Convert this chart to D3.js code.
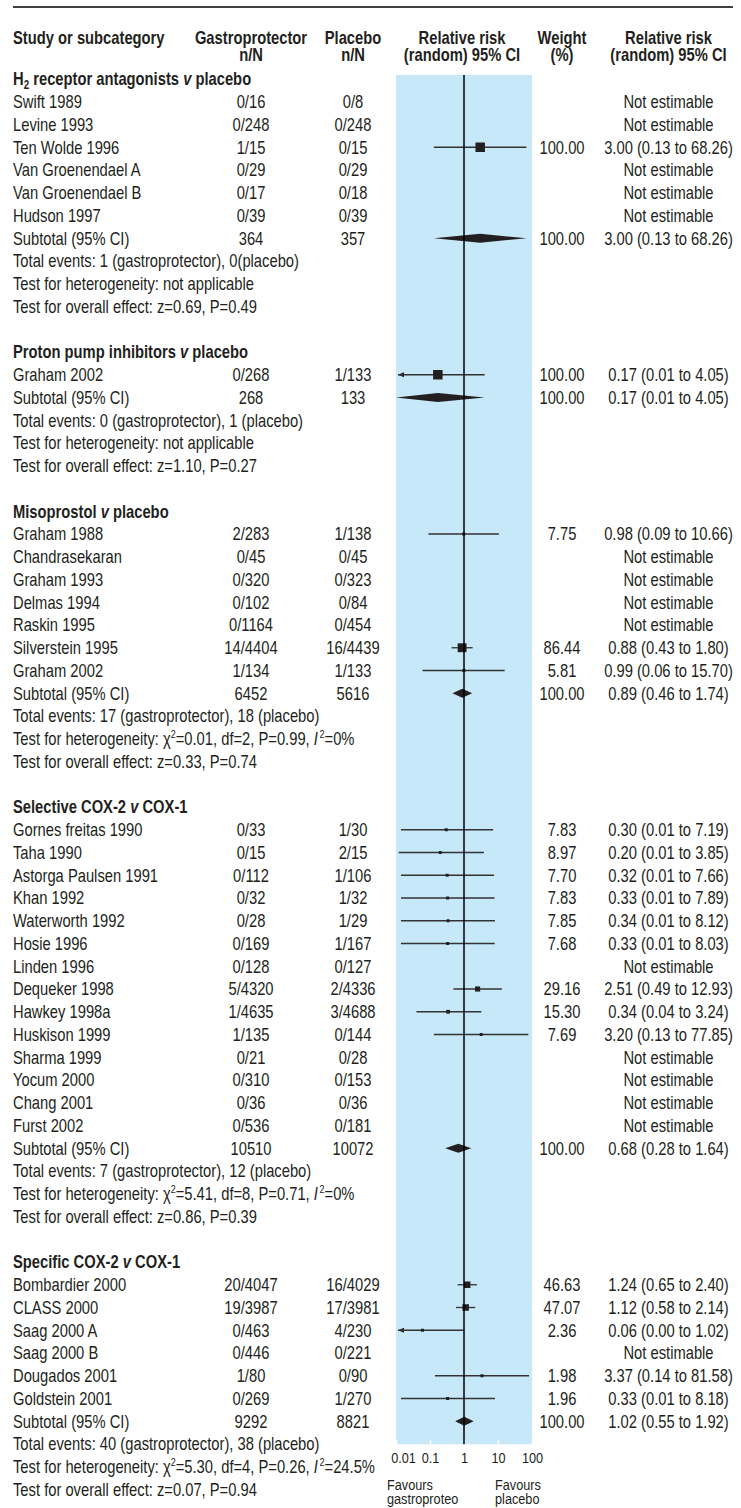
<!DOCTYPE html>
<html>
<head>
<meta charset="utf-8">
<script src="https://cdn.jsdelivr.net/npm/d3@7"></script>
<style>
  body { margin: 0; background: #fff; }
  svg text { font-family: 'Liberation Sans', Arial, sans-serif; fill: #231f20; }
</style>
</head>
<body>
<svg id="forest"></svg>
<script>
// ---- data ----
var groupLabels = ["H_2 receptor antagonists", "Proton pump inhibitors", "Misoprostol", "Selective COX-2", "Specific COX-2"];
var groupVersus = ["placebo", "placebo", "placebo", "COX-1", "COX-1"];

var studyGroup = [0,0,0,0,0,0, 1, 2,2,2,2,2,2,2, 3,3,3,3,3,3,3,3,3,3,3,3,3,3, 4,4,4,4,4,4];
var studyNames = ["Swift 1989", "Levine 1993", "Ten Wolde 1996", "Van Groenendael A", "Van Groenendael B", "Hudson 1997",
  "Graham 2002",
  "Graham 1988", "Chandrasekaran", "Graham 1993", "Delmas 1994", "Raskin 1995", "Silverstein 1995", "Graham 2002",
  "Gornes freitas 1990", "Taha 1990", "Astorga Paulsen 1991", "Khan 1992", "Waterworth 1992", "Hosie 1996", "Linden 1996",
  "Dequeker 1998", "Hawkey 1998a", "Huskison 1999", "Sharma 1999", "Yocum 2000", "Chang 2001", "Furst 2002",
  "Bombardier 2000", "CLASS 2000", "Saag 2000 A", "Saag 2000 B", "Dougados 2001", "Goldstein 2001"];
var treatNN = ["0/16", "0/248", "1/15", "0/29", "0/17", "0/39",
  "0/268",
  "2/283", "0/45", "0/320", "0/102", "0/1164", "14/4404", "1/134",
  "0/33", "0/15", "0/112", "0/32", "0/28", "0/169", "0/128", "5/4320", "1/4635", "1/135", "0/21", "0/310", "0/36", "0/536",
  "20/4047", "19/3987", "0/463", "0/446", "1/80", "0/269"];
var ctrlNN = ["0/8", "0/248", "0/15", "0/29", "0/18", "0/39",
  "1/133",
  "1/138", "0/45", "0/323", "0/84", "0/454", "16/4439", "1/133",
  "1/30", "2/15", "1/106", "1/32", "1/29", "1/167", "0/127", "2/4336", "3/4688", "0/144", "0/28", "0/153", "0/36", "0/181",
  "16/4029", "17/3981", "4/230", "0/221", "0/90", "1/270"];
var studyWeight = [null, null, 100.00, null, null, null,
  100.00,
  7.75, null, null, null, null, 86.44, 5.81,
  7.83, 8.97, 7.70, 7.83, 7.85, 7.68, null, 29.16, 15.30, 7.69, null, null, null, null,
  46.63, 47.07, 2.36, null, 1.98, 1.96];
var studyRR = [null, null, 3.00, null, null, null,
  0.17,
  0.98, null, null, null, null, 0.88, 0.99,
  0.30, 0.20, 0.32, 0.33, 0.34, 0.33, null, 2.51, 0.34, 3.20, null, null, null, null,
  1.24, 1.12, 0.06, null, 3.37, 0.33];
var studyLow = [null, null, 0.13, null, null, null,
  0.007,
  0.09, null, null, null, null, 0.43, 0.06,
  0.014, 0.012, 0.014, 0.014, 0.014, 0.014, null, 0.49, 0.04, 0.13, null, null, null, null,
  0.65, 0.58, 0.004, null, 0.14, 0.014];
var studyHigh = [null, null, 68.26, null, null, null,
  4.05,
  10.66, null, null, null, null, 1.80, 15.70,
  7.19, 3.85, 7.66, 7.89, 8.12, 8.03, null, 12.93, 3.24, 77.85, null, null, null, null,
  2.40, 2.14, 1.02, null, 81.58, 8.18];

var subTreat = [364, 268, 6452, 10510, 9292];
var subCtrl = [357, 133, 5616, 10072, 8821];
var subRR = [3.00, 0.17, 0.89, 0.68, 1.02];
var subLow = [0.13, 0.007, 0.46, 0.28, 0.55];
var subHigh = [68.26, 4.05, 1.74, 1.64, 1.92];

var eventsTreat = [1, 0, 17, 7, 40];
var eventsCtrl = [0, 1, 18, 12, 38];
var hetChi2 = [null, null, 0.01, 5.41, 5.30];
var hetDf = [null, null, 2, 8, 4];
var hetP = [null, null, 0.99, 0.71, 0.26];
var hetI2 = [null, null, 0, 0, 24.5];
var overallZ = [0.69, 1.10, 0.33, 0.86, 0.07];
var overallP = [0.49, 0.27, 0.74, 0.39, 0.94];

var axisTicks = [0.01, 0.1, 1, 10, 100];

// ---- layout ----
var W = 741, H = 1508;
var col = {label: 13, treat: 251, ctrl: 353, weight: 562, rr: 668.5};
var ink = "#231f20";
var f2 = d3.format(".2f");
var narrow = 0.82;   // no condensed face installed, squeeze Liberation Sans instead

var rows = [];
groupLabels.forEach(function (g, gi) {
  rows.push({type: "group", g: gi});
  studyGroup.forEach(function (sg, si) { if (sg == gi) rows.push({type: "study", i: si}); });
  rows.push({type: "subtotal", g: gi});
  rows.push({type: "events", g: gi});
  rows.push({type: "het", g: gi});
  rows.push({type: "overall", g: gi});
  if (gi < groupLabels.length - 1) rows.push({type: "blank"});
});

var y = d3.scaleLinear().domain([0, rows.length - 1]).range([79, 79 + (rows.length - 1) * 22.75]);
var x = d3.scaleLog().domain([0.01, 100]).range([396, 532]).clamp(true);
var box = d3.scaleSqrt().domain([0, 100]).range([0, 9.5]);

var svg = d3.select("#forest").attr("width", W).attr("height", H);

// narrow text helper
function label(parent, xx, yy, t, anchor, size) {
  return parent.append("text")
    .attr("transform", "translate(" + xx + "," + yy + ") scale(" + narrow + ",1)")
    .attr("dy", "0.35em")
    .attr("text-anchor", anchor || "start")
    .style("font-size", (size || 18) + "px")
    .text(t);
}

// top rule
svg.append("line").attr("x1", 13).attr("x2", 733).attr("y1", 7).attr("y2", 7)
  .attr("stroke", "#000").attr("stroke-width", 1.5);

// header
var hdr = svg.append("g").style("font-weight", "bold");
label(hdr, col.label, 37.5, "Study or subcategory");
label(hdr, col.treat, 37.5, "Gastroprotector", "middle");
label(hdr, col.treat, 55, "n/N", "middle");
label(hdr, col.ctrl, 37.5, "Placebo", "middle");
label(hdr, col.ctrl, 55, "n/N", "middle");
label(hdr, 462, 37.5, "Relative risk", "middle");
label(hdr, 462, 55, "(random) 95% CI", "middle");
label(hdr, col.weight, 37.5, "Weight", "middle");
label(hdr, col.weight, 55, "(%)", "middle");
label(hdr, col.rr, 37.5, "Relative risk", "middle");
label(hdr, col.rr, 55, "(random) 95% CI", "middle");

// blue panel
var lastSub = d3.max(rows.map(function (r, k) { return r.type == "subtotal" ? k : -1; }));
var panelTop = y(0) - 4, panelBottom = y(lastSub) + 23;
svg.append("rect").attr("x", x(0.01)).attr("y", panelTop)
  .attr("width", x(100) - x(0.01)).attr("height", panelBottom - panelTop)
  .attr("fill", "#c6e8f8");

// axis
var axis = svg.append("g").attr("transform", "translate(0," + panelBottom + ")")
  .call(d3.axisBottom(x).tickValues(axisTicks).tickFormat(function (d) { return String(d); })
    .tickSizeInner(-4).tickSizeOuter(0).tickPadding(8));
axis.select(".domain").remove();
axis.selectAll(".tick line").attr("stroke", "#fff").attr("stroke-width", 1.5);
axis.selectAll(".tick text")
  .style("font-size", "15.5px").style("font-family", null).attr("fill", ink)
  .attr("transform", function (d) { return "translate(" + (d == 0.01 ? 7 : 0) + ",0) scale(" + narrow + ",1)"; });

var fav = svg.append("g");
label(fav, 387, 1485, "Favours", "start", 15.5);
label(fav, 387, 1499, "gastroproteo", "start", 15.5);
label(fav, 495, 1485, "Favours", "start", 15.5);
label(fav, 495, 1499, "placebo", "start", 15.5);

var body = svg.append("g");

function ciMark(yy, rr, lo, hi, w) {
  var x0 = x(lo), x1 = x(hi);
  if (lo < 0.01) {
    x0 = x(0.01) + 2;
    svg.append("path")
      .attr("d", "M" + x0 + "," + yy + "l6,-2.5l0,5z")
      .attr("fill", ink);
  }
  svg.append("line").attr("x1", x0).attr("x2", x1).attr("y1", yy).attr("y2", yy)
    .attr("stroke", "#333").attr("stroke-width", 1.3);
  var s = Math.max(3, box(w));
  svg.append("rect").attr("x", x(rr) - s / 2).attr("y", yy - s / 2)
    .attr("width", s).attr("height", s).attr("fill", ink);
}

function diamond(yy, rr, lo, hi) {
  svg.append("path")
    .attr("d", "M" + x(lo) + "," + yy + "L" + x(rr) + "," + (yy - 4.5) +
      "L" + x(hi) + "," + yy + "L" + x(rr) + "," + (yy + 4.5) + "Z")
    .attr("fill", ink);
}

rows.forEach(function (r, k) {
  var yy = y(k);
  if (r.type == "group") {
    var t = label(body, col.label, yy, "").style("font-weight", "bold");
    var lab = groupLabels[r.g];
    if (lab.indexOf("_") >= 0) {
      var parts = lab.split("_");
      t.append("tspan").text(parts[0]);
      t.append("tspan").attr("dy", 4).style("font-size", "12px").text(parts[1].charAt(0));
      t.append("tspan").attr("dy", -4).text(parts[1].slice(1) + " ");
    } else {
      t.append("tspan").text(lab + " ");
    }
    t.append("tspan").style("font-style", "italic").text("v");
    t.append("tspan").text(" " + groupVersus[r.g]);
  } else if (r.type == "study") {
    var i = r.i;
    label(body, col.label, yy, studyNames[i]);
    label(body, col.treat, yy, treatNN[i], "middle");
    label(body, col.ctrl, yy, ctrlNN[i], "middle");
    if (studyRR[i] == null) {
      label(body, col.rr, yy, "Not estimable", "middle");
    } else {
      label(body, col.weight, yy, f2(studyWeight[i]), "middle");
      label(body, col.rr, yy, f2(studyRR[i]) + " (" + f2(studyLow[i]) + " to " + f2(studyHigh[i]) + ")", "middle");
      ciMark(yy, studyRR[i], studyLow[i], studyHigh[i], studyWeight[i]);
    }
  } else if (r.type == "subtotal") {
    var g = r.g;
    label(body, col.label, yy, "Subtotal (95% CI)");
    label(body, col.treat, yy, subTreat[g], "middle");
    label(body, col.ctrl, yy, subCtrl[g], "middle");
    label(body, col.weight, yy, f2(100), "middle");
    label(body, col.rr, yy, f2(subRR[g]) + " (" + f2(subLow[g]) + " to " + f2(subHigh[g]) + ")", "middle");
    diamond(yy, subRR[g], subLow[g], subHigh[g]);
  } else if (r.type == "events") {
    label(body, col.label, yy, "Total events: " + eventsTreat[r.g] + " (gastroprotector), " +
      eventsCtrl[r.g] + (r.g == 0 ? "" : " ") + "(placebo)");
  } else if (r.type == "het") {
    var g2 = r.g;
    if (hetChi2[g2] == null) {
      label(body, col.label, yy, "Test for heterogeneity: not applicable");
    } else {
      var h = label(body, col.label, yy, "");
      h.append("tspan").text("Test for heterogeneity: \u03c7");
      h.append("tspan").attr("dy", -7).style("font-size", "11px").text("2");
      h.append("tspan").attr("dy", 7).text("=" + f2(hetChi2[g2]) + ", df=" + hetDf[g2] + ", P=" + f2(hetP[g2]) + ", ");
      h.append("tspan").style("font-style", "italic").text("I");
      h.append("tspan").attr("dy", -7).attr("dx", 2).style("font-size", "11px").text("2");
      h.append("tspan").attr("dy", 7).text("=" + hetI2[g2] + "%");
    }
  } else if (r.type == "overall") {
    label(body, col.label, yy, "Test for overall effect: z=" + f2(overallZ[r.g]) + ", P=" + f2(overallP[r.g]));
  }
});

// line of no effect on top of marks
svg.append("line").attr("x1", x(1)).attr("x2", x(1)).attr("y1", panelTop).attr("y2", panelBottom)
  .attr("stroke", "#000").attr("stroke-width", 1.5);
</script>
</body>
</html>
